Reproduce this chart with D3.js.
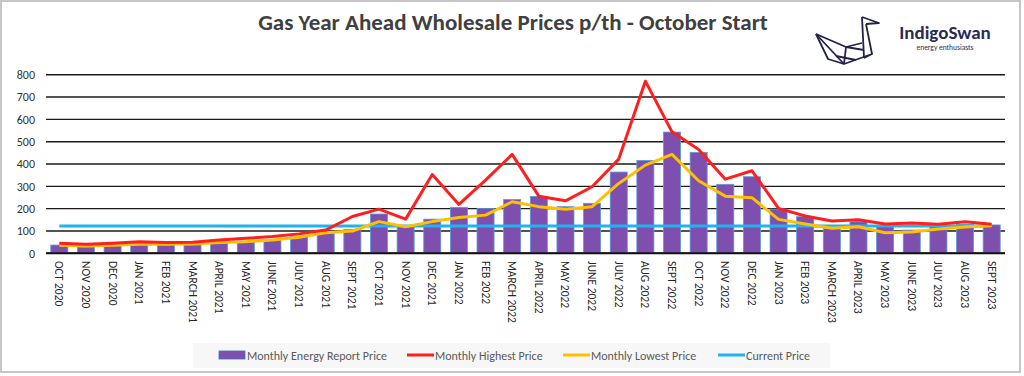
<!DOCTYPE html>
<html>
<head>
<meta charset="utf-8">
<script src="https://cdn.jsdelivr.net/npm/d3@7"></script>
<style>
  body { margin: 0; background: #fff; }
  text { font-family: Carlito, Calibri, Lato, sans-serif; }
</style>
</head>
<body>
<div id="chart"></div>
<script>
// Define SVG area dimensions
var svgWidth = 1024;
var svgHeight = 376;

// Chart data
var months = ["OCT 2020", "NOV 2020", "DEC 2020", "JAN 2021", "FEB 2021", "MARCH 2021",
  "APRIL 2021", "MAY 2021", "JUNE 2021", "JULY 2021", "AUG 2021", "SEPT 2021",
  "OCT 2021", "NOV 2021", "DEC  2021", "JAN 2022", "FEB 2022", "MARCH 2022",
  "APRIL 2022", "MAY 2022", "JUNE 2022", "JULY 2022", "AUG 2022", "SEPT 2022",
  "OCT 2022", "NOV 2022", "DEC 2022", "JAN 2023", "FEB 2023", "MARCH 2023",
  "APRIL 2023", "MAY 2023", "JUNE 2023", "JULY 2023", "AUG 2023", "SEPT 2023"];

var reportPrice = [37, 28, 33, 40, 37, 37, 45, 55, 60, 75, 90, 107,
  176, 119, 153, 206, 201, 241, 255, 209, 224, 364, 416, 543,
  452, 309, 343, 198, 164, 112, 141, 124, 104, 124, 130, 127];

var highestPrice = [45, 40, 45, 52, 48, 49, 60, 67, 75, 87, 104, 165,
  198, 153, 353, 219, 328, 443, 256, 235, 298, 422, 771, 544,
  465, 332, 370, 201, 167, 145, 150, 131, 136, 130, 141, 130];

var lowestPrice = [36, 33, 36, 40, 40, 42, 48, 52, 60, 72, 92, 100,
  142, 119, 142, 160, 171, 231, 209, 197, 209, 313, 395, 443,
  325, 256, 249, 152, 131, 112, 119, 92, 95, 109, 118, 125];

var currentPrice = 122;

var yTicks = [0, 100, 200, 300, 400, 500, 600, 700, 800];

var legendItems = [
  { label: "Monthly Energy Report Price", color: "#7f4fb0", kind: "bar" },
  { label: "Monthly Highest Price", color: "#ff1f1f", kind: "line" },
  { label: "Monthly Lowest Price", color: "#ffc000", kind: "line" },
  { label: "Current Price", color: "#1fb4ef", kind: "line" }
];

// plot area
var plot = { left: 46, right: 1005, top: 74.7, bottom: 253.3 };

var svg = d3.select("#chart")
  .append("svg")
  .attr("width", svgWidth)
  .attr("height", svgHeight);

// outer frame
svg.append("rect")
  .attr("x", 1)
  .attr("y", 1)
  .attr("width", 1019)
  .attr("height", 371)
  .attr("fill", "#fff")
  .attr("stroke", "#c6c6c6")
  .attr("stroke-width", 2);

// title
svg.append("text")
  .attr("x", 513)
  .attr("y", 30)
  .attr("text-anchor", "middle")
  .attr("font-size", "23px")
  .attr("font-weight", 600)
  .attr("fill", "#404040")
  .text("Gas Year Ahead Wholesale Prices p/th - October Start");

// scales
var xBand = d3.scaleBand()
  .domain(months)
  .range([plot.left, plot.right])
  .paddingInner(0.36)
  .paddingOuter(0.18);

var yLinearScale = d3.scaleLinear()
  .domain([0, 800])
  .range([plot.bottom, plot.top]);

var center = function(m) { return xBand(m) + xBand.bandwidth() / 2; };

// gridlines
svg.append("g")
  .selectAll("line")
  .data(yTicks)
  .enter()
  .append("line")
  .attr("x1", plot.left)
  .attr("x2", plot.right)
  .attr("y1", d => yLinearScale(d))
  .attr("y2", d => yLinearScale(d))
  .attr("stroke", "#1a1a1a")
  .attr("stroke-width", 1.4);

// y axis labels
var leftAxis = d3.axisLeft(yLinearScale).tickValues(yTicks).tickSize(0).tickPadding(11);
var yAxisG = svg.append("g")
  .attr("transform", `translate(${plot.left}, 0)`)
  .call(leftAxis);
yAxisG.select(".domain").remove();
yAxisG.selectAll("text")
  .attr("font-size", "12px")
  .attr("fill", "#333")
  .style("font-family", "Carlito, Calibri, Lato, sans-serif");

// bars
svg.append("g")
  .selectAll("rect")
  .data(months)
  .enter()
  .append("rect")
  .attr("x", d => xBand(d))
  .attr("width", xBand.bandwidth())
  .attr("y", (d, i) => yLinearScale(reportPrice[i]))
  .attr("height", (d, i) => plot.bottom - yLinearScale(reportPrice[i]))
  .attr("fill", "#7f4fb0")
  .attr("stroke", "#5b9bd5")
  .attr("stroke-width", 0.8);

// x axis line
svg.append("line")
  .attr("x1", plot.left)
  .attr("x2", plot.right)
  .attr("y1", plot.bottom)
  .attr("y2", plot.bottom)
  .attr("stroke", "#111")
  .attr("stroke-width", 2);

// lines
var lineGen = function(values) {
  return d3.line()
    .x((d, i) => center(months[i]))
    .y(d => yLinearScale(d))(values);
};

svg.append("path")
  .attr("d", lineGen(months.map(() => currentPrice)))
  .attr("fill", "none")
  .attr("stroke", "#1fb4ef")
  .attr("stroke-width", 3);

svg.append("path")
  .attr("d", lineGen(lowestPrice))
  .attr("fill", "none")
  .attr("stroke", "#ffc000")
  .attr("stroke-width", 3)
  .attr("stroke-linejoin", "round");

svg.append("path")
  .attr("d", lineGen(highestPrice))
  .attr("fill", "none")
  .attr("stroke", "#ff1f1f")
  .attr("stroke-width", 3)
  .attr("stroke-linejoin", "round");

// x axis labels (rotated)
svg.append("g")
  .selectAll("text")
  .data(months)
  .enter()
  .append("text")
  .attr("transform", d => `translate(${center(d) - 4}, 261) rotate(90)`)
  .attr("text-anchor", "start")
  .attr("font-size", "11.5px")
  .attr("fill", "#262626")
  .text(d => d);

// legend
var legend = svg.append("g");
legend.append("rect")
  .attr("x", 193)
  .attr("y", 343)
  .attr("width", 637)
  .attr("height", 25)
  .attr("fill", "#f7f7f7");

var legendX = [219, 407, 563, 718];
legendItems.forEach(function(item, i) {
  var x0 = legendX[i];
  if (item.kind === "bar") {
    legend.append("rect")
      .attr("x", x0)
      .attr("y", 351)
      .attr("width", 26)
      .attr("height", 8)
      .attr("fill", item.color)
      .attr("stroke", "#3e6fc0")
      .attr("stroke-width", 0.8);
  } else {
    legend.append("line")
      .attr("x1", x0)
      .attr("x2", x0 + 27)
      .attr("y1", 355)
      .attr("y2", 355)
      .attr("stroke", item.color)
      .attr("stroke-width", 3);
  }
  legend.append("text")
    .attr("x", x0 + 28)
    .attr("y", 359.5)
    .attr("font-size", "12px")
    .attr("fill", "#595959")
    .text(item.label);
});

// logo
var logo = svg.append("g")
  .attr("fill", "none")
  .attr("stroke", "#23234a")
  .attr("stroke-width", 1.8)
  .attr("stroke-linejoin", "round");
var swanPaths = [
  "M862,17 L879,23 L866,24",
  "M862,17 L864,58",
  "M866,24 L872,54",
  "M816,34 L828,59 L844,64 L872,54 L864,58",
  "M816,34 L844,64",
  "M816,34 L846,47 L862,43",
  "M846,47 L844,64",
  "M846,47 L864,50",
  "M836,56 L856,60"
];
swanPaths.forEach(function(p) {
  logo.append("path").attr("d", p);
});
svg.append("text")
  .attr("x", 945)
  .attr("y", 39)
  .attr("text-anchor", "middle")
  .attr("font-size", "19px")
  .attr("font-weight", 700)
  .attr("fill", "#2b2b52")
  .text("IndigoSwan");
svg.append("text")
  .attr("x", 945)
  .attr("y", 50)
  .attr("text-anchor", "middle")
  .attr("font-size", "7.5px")
  .attr("fill", "#2b2b52")
  .text("energy enthusiasts");
</script>
</body>
</html>
